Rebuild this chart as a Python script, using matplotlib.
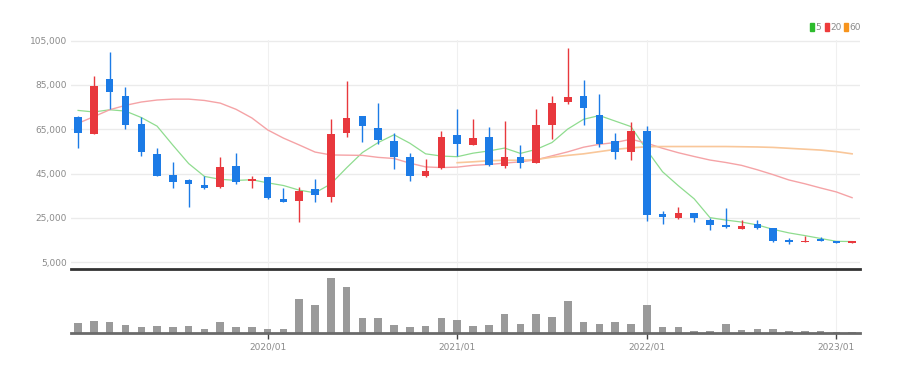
import matplotlib.pyplot as plt
from matplotlib.patches import Rectangle

# 월봉 데이터 (2019/01 ~ 2023/02)
months = ["2019/01", "2019/02", "2019/03", "2019/04", "2019/05", "2019/06", "2019/07", "2019/08",
          "2019/09", "2019/10", "2019/11", "2019/12", "2020/01", "2020/02", "2020/03", "2020/04",
          "2020/05", "2020/06", "2020/07", "2020/08", "2020/09", "2020/10", "2020/11", "2020/12",
          "2021/01", "2021/02", "2021/03", "2021/04", "2021/05", "2021/06", "2021/07", "2021/08",
          "2021/09", "2021/10", "2021/11", "2021/12", "2022/01", "2022/02", "2022/03", "2022/04",
          "2022/05", "2022/06", "2022/07", "2022/08", "2022/09", "2022/10", "2022/11", "2022/12",
          "2023/01", "2023/02"]

opens = [70700, 62900, 87700, 80000, 67200, 53800, 44400, 41900, 40000, 38800, 48600, 41500,
         43300, 33400, 32800, 38000, 34600, 63200, 71000, 65700, 59900, 52600, 43900, 47700,
         62400, 57900, 61700, 48400, 52600, 49900, 67000, 77200, 80200, 71400, 59900, 54600,
         64200, 26800, 24800, 27100, 24100, 21800, 20100, 22100, 20300, 15000, 14000, 15600,
         14400, 13800]
highs = [71000, 89200, 100000, 84200, 70700, 56400, 50100, 42400, 44000, 52600, 54100, 44000,
         43500, 38600, 39100, 42500, 69700, 87000, 71000, 77000, 63200, 54400, 51400, 64200,
         74000, 69500, 65900, 68700, 57900, 74000, 80000, 101600, 87300, 80800, 63500, 68400,
         66600, 28300, 29800, 27100, 24800, 29300, 23900, 24100, 20600, 15800, 16800, 16500,
         14700, 14600]
lows = [56700, 62900, 74000, 65100, 52900, 44000, 38300, 29700, 38000, 38500, 40100, 38300,
        33500, 32000, 23300, 32000, 32300, 61400, 59100, 58400, 47100, 41800, 43600, 47100,
        52900, 57900, 48600, 47700, 47700, 49600, 60600, 76400, 67000, 57200, 51400, 51100,
        23700, 22200, 24700, 23300, 19500, 20300, 19900, 19800, 14000, 13200, 13900, 14400,
        13500, 13700]
closes = [63200, 84700, 81700, 67100, 54600, 44100, 41300, 40400, 38300, 48100, 41300, 42700,
          33800, 32300, 37300, 35300, 62900, 70300, 66500, 60200, 52600, 43900, 46300, 61700,
          58400, 60900, 48900, 52600, 49900, 67000, 76700, 79400, 74500, 58200, 54600, 64400,
          26300, 25300, 27100, 24800, 21800, 20800, 21100, 20600, 14700, 14000, 14700, 14700,
          13800, 14400]
volumes = [29, 37, 32, 24, 17, 22, 17, 22, 12, 32, 19, 17, 12, 12, 102, 84, 165, 139, 44, 44,
           24, 17, 22, 44, 39, 20, 24, 57, 27, 57, 47, 95, 33, 28, 32, 27, 84, 17, 17, 7,
           7, 27, 9, 12, 12, 7, 7, 7, 4, 4]

# 이동평균선
ma5 = [73500, 72800, 73800, 73200, 70300, 66400, 57800, 49500, 43700, 42400, 41900, 42200,
       40800, 39600, 37500, 36300, 40300, 47600, 54500, 59000, 62500, 58700, 53900, 52900,
       52600, 54200, 55200, 56500, 54100, 55900, 59000, 65100, 69500, 71200, 68700, 66200,
       55600, 45800, 39500, 33600, 25100, 24000, 23100, 21800, 19800, 18200, 17000, 15700,
       14400, 14300]
ma20 = [67700, 70700, 73800, 75800, 77300, 78200, 78600, 78600, 78000, 76800, 74000, 70100,
        64700, 61000, 57900, 54700, 53400, 53300, 53200, 52300, 51800, 49700, 48000, 47700,
        47900, 48700, 49100, 49700, 50300, 51200, 53000, 54800, 56900, 58200, 59000, 60500,
        58700, 56400, 54400, 52700, 51100, 50000, 48700, 46700, 44500, 42100, 40400, 38500,
        36700, 34100]
ma60_start = 24  # 2021/01부터 표시
ma60 = [49900, 50300, 50800, 51000, 51000, 51300, 52400, 53200, 53900, 54900, 55900, 56600,
        57100, 57200, 57200, 57200, 57200, 57200, 57100, 57000, 56800, 56400, 56000, 55600,
        54900, 53900]

year_ticks = ["2020/01", "2021/01", "2022/01", "2023/01"]
price_ticks = [5000, 25000, 45000, 65000, 85000, 105000]

UP = "#e8383d"
DOWN = "#1c7be6"
GRID = "#ebebeb"
TEXT = "#8a8a8a"

fig = plt.figure(figsize=(9.02, 3.74), dpi=100)
ax = fig.add_axes([71 / 902, 105 / 374, 789 / 902, 229 / 374])
axv = fig.add_axes([71 / 902, 41 / 374, 789 / 902, 62 / 374], sharex=ax)

x = list(range(len(months)))
tick_pos = [months.index(m) for m in year_ticks]

# 격자
for p in price_ticks:
    ax.axhline(p, color=GRID, lw=1, zorder=0)
for t in tick_pos:
    ax.axvline(t, color="#f0f0f0", lw=0.8, zorder=0)
    axv.axvline(t, color="#f0f0f0", lw=0.8, zorder=0)

# 이동평균선
ax.plot(x, ma5, color="#8fdc8f", lw=0.9, zorder=2)
ax.plot(x, ma20, color="#f5a3a6", lw=1.0, zorder=2)
ax.plot(x[ma60_start:], ma60, color="#f9c79a", lw=1.2, zorder=2)

# 캔들
for i in x:
    o, h, l, c = opens[i], highs[i], lows[i], closes[i]
    col = UP if c >= o else DOWN
    ax.vlines(i, l, h, color=col, lw=1, zorder=3)
    bottom = min(o, c)
    height = max(abs(c - o), 500)
    ax.bar(i, height, bottom=bottom, width=0.48, color=col, zorder=4)

ax.set_xlim(-0.45, 49.5)
ax.set_ylim(1900, 105300)
ax.set_yticks(price_ticks)
ax.set_yticklabels([f"{p:,}" for p in price_ticks])
ax.tick_params(axis="y", length=0, pad=3, labelsize=6.5, labelcolor=TEXT)
ax.tick_params(axis="x", length=0, labelbottom=False)
for s in ["top", "right", "left"]:
    ax.spines[s].set_visible(False)
ax.spines["bottom"].set_color("#333333")
ax.spines["bottom"].set_linewidth(2)

# 거래량
axv.bar(x, volumes, width=0.48, color="#9a9a9a", zorder=2)
axv.set_ylim(0, 186)
axv.set_yticks([])
axv.set_xticks(tick_pos)
axv.set_xticklabels(year_ticks)
axv.tick_params(axis="x", length=4, width=1, color="#444444", pad=3, labelsize=6.5, labelcolor=TEXT)
for s in ["top", "right", "left"]:
    axv.spines[s].set_visible(False)
axv.spines["bottom"].set_color("#6a6a6a")
axv.spines["bottom"].set_linewidth(2)

# 범례
legend_items = [("5", "#2dbb2d", 810), ("20", "#ee3b3b", 825), ("60", "#f7941d", 844)]
for label, col, px in legend_items:
    fig.patches.append(Rectangle((px / 902, 1 - 31 / 374), 4 / 902, 8 / 374,
                                 transform=fig.transFigure, color=col))
    fig.text((px + 5.5) / 902, 1 - 27 / 374, label, color=TEXT, fontsize=6.5, va="center", ha="left")

fig.savefig("out.png", dpi=100)
